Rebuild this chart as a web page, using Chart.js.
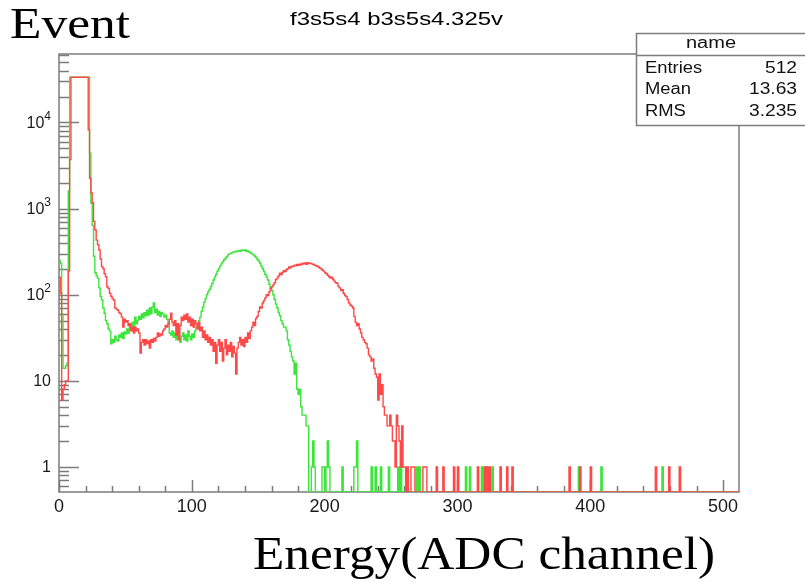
<!DOCTYPE html>
<html>
<head>
<meta charset="utf-8">
<script src="https://cdn.jsdelivr.net/npm/chart.js@4.4.0/dist/chart.umd.min.js"></script>
<style>
  html, body { margin: 0; padding: 0; background: #fff; }
  #wrap { width: 805px; height: 582px; position: relative; }
</style>
</head>
<body>
<div id="wrap"><canvas id="histChart" width="805" height="582"></canvas></div>
<script>
// histogram contents, one value per ADC channel
const nChannels = 512;

// green: channels 0..187, then single hits further out
const greenCounts = [
  250, 230, 60, 14, 14, 15, 16, 1600, 33500, 33500,
  33500, 33500, 33500, 33500, 33500, 33500, 33500, 33500, 33500, 33500,
  33500, 33500, 33500, 4400, 1160, 640, 280, 180, 165, 155,
  120, 95, 87, 70, 61, 50, 46, 40, 38, 27,
  30, 28, 33, 30, 29, 34, 32, 36, 31, 37,
  35, 40, 36, 44, 39, 48, 42, 55, 46, 50,
  56, 52, 60, 54, 62, 57, 66, 58, 70, 60,
  72, 80, 62, 68, 58, 64, 56, 62, 60, 55,
  58, 52, 48, 36, 34, 38, 32, 36, 30, 34,
  31, 28, 33, 36, 30, 34, 29, 38, 33, 30,
  35, 32, 38, 42, 46, 50, 55, 64, 72, 82,
  90, 100, 108, 115, 125, 135, 148, 160, 172, 188,
  200, 215, 228, 242, 255, 265, 276, 290, 298, 302,
  308, 312, 318, 316, 322, 325, 320, 328, 332, 326,
  330, 318, 322, 312, 305, 298, 290, 282, 272, 258,
  246, 232, 215, 200, 186, 172, 160, 148, 132, 120,
  112, 100, 88, 78, 70, 62, 57, 50, 46, 42,
  42, 38, 30, 26, 22, 19, 17, 12, 16, 8,
  7, 8, 5, 4, 4, 4, 3, 3
];
const greenTail = [
  [190, 1], [191, 2], [192, 1], [198, 1], [199, 1], [201, 1], [202, 2], [203, 1],
  [213, 1], [222, 1], [223, 1], [224, 2], [235, 1], [238, 1], [242, 1], [248, 1],
  [255, 1], [257, 1], [269, 1], [271, 1], [306, 1], [309, 1], [318, 1], [321, 1],
  [326, 1], [391, 1], [408, 1], [454, 1]
];

// red: channels 0..260, then single hits further out
const redCounts = [
  160, 104, 6, 8, 9, 10, 10, 190, 3700, 33500,
  33500, 33500, 33500, 33500, 33500, 33500, 33500, 33500, 33500, 33500,
  33500, 33500, 8200, 2250, 1520, 1170, 710, 565, 430, 380,
  330, 260, 212, 200, 175, 162, 124, 118, 104, 96,
  90, 87, 70, 68, 66, 62, 60, 55, 42, 52,
  48, 50, 44, 46, 38, 42, 36, 42, 38, 40,
  36, 21, 28, 30, 26, 30, 27, 29, 24, 30,
  28, 31, 29, 32, 36, 33, 35, 34, 38, 40,
  44, 42, 46, 52, 61, 48, 44, 50, 34, 46,
  30, 44, 55, 50, 58, 52, 60, 48, 55, 44,
  52, 42, 50, 46, 40, 48, 38, 42, 32, 38,
  30, 34, 28, 32, 26, 30, 22, 28, 16, 26,
  30, 22, 28, 17, 24, 30, 20, 26, 22, 28,
  19, 25, 21, 12, 24, 28, 32, 26, 30, 25,
  32, 28, 36, 31, 38, 42, 48, 44, 53, 56,
  64, 72, 70, 80, 85, 92, 100, 98, 108, 118,
  124, 130, 138, 150, 156, 165, 178, 172, 182, 190,
  186, 196, 200, 210, 206, 215, 212, 220, 218, 224,
  220, 226, 222, 232, 228, 234, 226, 236, 230, 232,
  228, 226, 220, 218, 214, 210, 204, 200, 192, 188,
  180, 176, 168, 162, 156, 160, 150, 144, 138, 136,
  126, 120, 112, 114, 104, 98, 95, 88, 80, 76,
  74, 70, 56, 48, 44, 46, 40, 36, 32, 30,
  28, 27, 24, 20, 19, 17, 18, 14, 12, 11,
  6, 12, 7, 9, 5, 4, 4, 3, 3, 4,
  3, 2, 2, 1, 4, 3, 2, 1, 3, 1,
  1
];
const redTail = [
  [262, 1], [265, 1], [266, 1], [267, 1], [274, 1], [275, 1], [276, 1], [284, 1],
  [289, 1], [297, 1], [300, 1], [315, 1], [320, 1], [322, 1], [324, 1], [332, 1],
  [337, 1], [341, 1], [384, 1], [392, 1], [400, 1], [449, 1], [459, 1], [467, 1]
];

const xTickValues = [0, 100, 200, 300, 400, 500];
const yTickValues = [1, 10, 100, 1000, 10000];
const superscripts = ['', '', '2', '3', '4'];

const plotTitle = 'f3s5s4 b3s5s4.325v';
const yTitle = 'Event';
const xTitle = 'Energy(ADC channel)';
const statsName = 'name';
const statsRows = [['Entries', '512'], ['Mean', '13.63'], ['RMS', '3.235']];

// log axis range of the frame
const Y_MIN = 0.512;
const Y_MAX = 62400;

// full 512-bin series; empty bins sit on the bottom edge like ROOT draws them
function buildSeries(counts, tail) {
    const full = new Array(nChannels).fill(0);
    counts.forEach((v, i) => { full[i] = v; });
    tail.forEach(([ch, v]) => { full[ch] = v; });
    const pts = full.map((v, ch) => ({ x: ch, y: v > 0 ? v : Y_MIN }));
    pts.push({ x: nChannels, y: pts[nChannels - 1].y });
    return pts;
}

// draw text squeezed/stretched to a given width (the reference text is wide)
function fitText(ctx, text, font, left, baseline, width) {
    ctx.font = font;
    const w = ctx.measureText(text).width;
    ctx.save();
    ctx.translate(left, baseline);
    ctx.scale(width / w, 1);
    ctx.textAlign = 'left';
    ctx.textBaseline = 'alphabetic';
    ctx.fillText(text, 0, 0);
    ctx.restore();
}

// text widened by a factor, anchored left, right or centre
function wideText(ctx, text, font, anchorX, midY, align, stretch) {
    ctx.font = font;
    const w = ctx.measureText(text).width * stretch;
    const left = align === 'right' ? anchorX - w : align === 'center' ? anchorX - w / 2 : anchorX;
    ctx.save();
    ctx.translate(left, midY);
    ctx.scale(stretch, 1);
    ctx.textAlign = 'left';
    ctx.textBaseline = 'middle';
    ctx.fillText(text, 0, 0);
    ctx.restore();
}

const frameColor = '#7c7c7c';
const statsFont = '16px "Liberation Sans", Arial, sans-serif';

const rootFrame = {
    id: 'rootFrame',
    beforeDatasetsDraw(chart) {
        const { ctx, chartArea: a, scales: { x, y } } = chart;
        ctx.save();
        ctx.strokeStyle = frameColor;
        ctx.lineWidth = 1.5;
        ctx.beginPath();
        // y ticks inside the frame, decades long, 2..9 short
        for (let d = -1; d <= 4; d++) {
            for (let k = 1; k <= 9; k++) {
                const v = k * Math.pow(10, d);
                if (v < Y_MIN || v > Y_MAX) continue;
                const py = Math.round(y.getPixelForValue(v)) + 0.5;
                ctx.moveTo(a.left, py);
                ctx.lineTo(a.left + (k === 1 ? 20 : 10), py);
            }
        }
        // x ticks every 20, longer every 100
        for (let v = 0; v <= 500; v += 20) {
            const px = Math.round(x.getPixelForValue(v)) + 0.5;
            ctx.moveTo(px, a.bottom);
            ctx.lineTo(px, a.bottom - (v % 100 === 0 ? 12 : 6));
        }
        ctx.stroke();
        ctx.strokeRect(a.left, a.top, a.right - a.left, a.bottom - a.top);
        ctx.restore();
    },
    afterDraw(chart) {
        const { ctx, scales: { y } } = chart;
        ctx.save();
        ctx.fillStyle = '#1a1a1a';

        // y labels with real superscripts
        yTickValues.forEach((v, i) => {
            const py = y.getPixelForValue(v);
            const sup = superscripts[i];
            ctx.textBaseline = 'middle';
            ctx.textAlign = 'right';
            if (sup) {
                ctx.font = '12px "Liberation Sans", Arial, sans-serif';
                const sw = ctx.measureText(sup).width;
                ctx.fillText(sup, 51, py - 6);
                ctx.font = '16px "Liberation Sans", Arial, sans-serif';
                ctx.fillText('10', 51 - sw, py + 1);
            } else {
                ctx.font = '16px "Liberation Sans", Arial, sans-serif';
                ctx.fillText(i === 0 ? '1' : '10', 51, py + 1);
            }
        });

        // titles
        ctx.fillStyle = '#000';
        fitText(ctx, plotTitle, '19px "Liberation Sans", Arial, sans-serif', 290, 25, 213);
        fitText(ctx, yTitle, '45px "Liberation Serif", "Times New Roman", serif', 10, 38, 120);
        fitText(ctx, xTitle, '46px "Liberation Serif", "Times New Roman", serif', 253, 569, 462);

        // stats box
        const bx = 636.5, by = 33.5, bw = 175, bh = 92;
        ctx.fillStyle = '#fff';
        ctx.fillRect(bx, by, bw, bh);
        ctx.strokeStyle = frameColor;
        ctx.lineWidth = 1.5;
        ctx.strokeRect(bx, by, bw, bh);
        ctx.beginPath();
        ctx.moveTo(bx, 55.5);
        ctx.lineTo(bx + bw, 55.5);
        ctx.stroke();
        ctx.fillStyle = '#111';
        wideText(ctx, statsName, statsFont, 711, 44, 'center', 1.25);
        const rowY = [69, 90, 112];
        statsRows.forEach(([label, val], i) => {
            wideText(ctx, label, statsFont, 645, rowY[i], 'left', 1.15);
            wideText(ctx, val, statsFont, 797, rowY[i], 'right', 1.2);
        });
        ctx.restore();
    }
};

const ctx = document.getElementById('histChart').getContext('2d');
const histChart = new Chart(ctx, {
    type: 'line',
    data: {
        datasets: [{
            label: 'red',
            data: buildSeries(redCounts, redTail),
            borderColor: 'rgb(255, 72, 72)',
            borderWidth: 1.4,
            stepped: true,
            pointRadius: 0,
            fill: false,
            order: 0
        }, {
            label: 'green',
            data: buildSeries(greenCounts, greenTail),
            borderColor: 'rgb(60, 228, 60)',
            borderWidth: 1.4,
            stepped: true,
            pointRadius: 0,
            fill: false,
            order: 1
        }]
    },
    options: {
        responsive: false,
        animation: false,
        parsing: false,
        layout: { padding: { top: 54, right: 66, left: 0, bottom: 0 } },
        plugins: {
            legend: { display: false },
            tooltip: { enabled: false },
            title: { display: false }
        },
        scales: {
            x: {
                type: 'linear',
                min: 0,
                max: nChannels,
                afterFit: s => { s.height = 90; },
                afterBuildTicks: s => { s.ticks = xTickValues.map(v => ({ value: v })); },
                grid: { display: false, drawTicks: false },
                border: { display: false },
                ticks: {
                    font: { family: 'Liberation Sans', size: 18 },
                    color: '#1a1a1a',
                    padding: 4,
                    maxRotation: 0,
                    autoSkip: false
                }
            },
            y: {
                type: 'logarithmic',
                min: Y_MIN,
                max: Y_MAX,
                afterFit: s => { s.width = 59; },
                afterBuildTicks: s => { s.ticks = yTickValues.map(v => ({ value: v })); },
                grid: { display: false, drawTicks: false },
                border: { display: false },
                ticks: { display: false }
            }
        }
    },
    plugins: [rootFrame]
});
</script>
</body>
</html>
